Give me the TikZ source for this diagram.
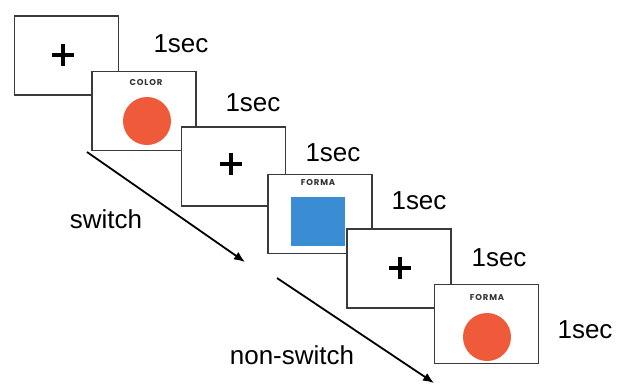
\documentclass[tikz,border=0pt]{standalone}
\usepackage{fontspec}
\setmainfont{Liberation Sans}
\newfontfamily\labfont[LetterSpace=10]{Poppins}
\usetikzlibrary{arrows.meta}
\definecolor{dotred}{HTML}{EE5A3A}
\definecolor{sqblue}{HTML}{3A8DD2}
\definecolor{frame}{HTML}{3A3A3A}
\tikzset{
  screen/.style={draw=frame, line width=1.4pt, fill=white, minimum width=104pt, minimum height=79pt, inner sep=0pt},
  secl/.style={font=\fontsize{26}{26}\selectfont, text=black, inner sep=0pt},
  cond/.style={font=\fontsize{26}{26}\selectfont, text=black, inner sep=0pt},
  tag/.style={font=\labfont\bfseries\fontsize{8.5}{8.5}\selectfont, text=black!80, inner sep=0pt},
  fix/.style={minimum width=22pt, minimum height=22pt, inner sep=0pt,
    path picture={\draw[line width=3.8pt, black] (path picture bounding box.west) -- (path picture bounding box.east)
      (path picture bounding box.north) -- (path picture bounding box.south);}},
  flow/.style={line width=1.8pt, -{Latex[length=11pt,width=9pt]}},
  circ/.style={circle, fill=dotred, minimum size=48pt, inner sep=0pt},
}
\begin{document}
\begin{tikzpicture}[x=1pt,y=-1pt]
\useasboundingbox (0,0) rectangle (624,383);
\fill[white] (0,0) rectangle (624,383);
% screens
\node[screen] (s1) at (66.5,55.5) {};
\node[fix] (p1) at (63,55) {};
\node[screen] (s2) at (144,111) {};
\node[tag] (t2) at (146,83) {COLOR};
\node[circ] (c2) at (147,121) {};
\node[screen] (s3) at (233.5,166.5) {};
\node[fix] (p3) at (231,164) {};
\node[screen] (s4) at (320,214) {};
\node[tag] (t4) at (318,183) {FORMA};
\node[fill=sqblue, minimum width=54pt, minimum height=49pt, inner sep=0pt] (q4) at (318,221.5) {};
\node[screen] (s5) at (399,268.5) {};
\node[fix] (p5) at (400,268) {};
\node[screen] (s6) at (486.5,324) {};
\node[tag] (t6) at (487,297) {FORMA};
\node[circ] (c6) at (487,337) {};
% durations
\node[secl] (d1) at (181,44) {1sec};
\node[secl] (d2) at (253,103) {1sec};
\node[secl] (d3) at (333,153) {1sec};
\node[secl] (d4) at (419,201) {1sec};
\node[secl] (d5) at (499,258) {1sec};
\node[secl] (d6) at (585,330) {1sec};
% arrows
\coordinate (a1s) at (87,152);
\coordinate (a1e) at (245,262);
\coordinate (a2s) at (277,278);
\coordinate (a2e) at (434,383);
\draw[flow] (a1s) -- (a1e);
\draw[flow] (a2s) -- (a2e);
\node[cond] (sw) at (106,219) {switch};
\node[cond] (nsw) at (292,355) {non-switch};
\end{tikzpicture}
\end{document}
